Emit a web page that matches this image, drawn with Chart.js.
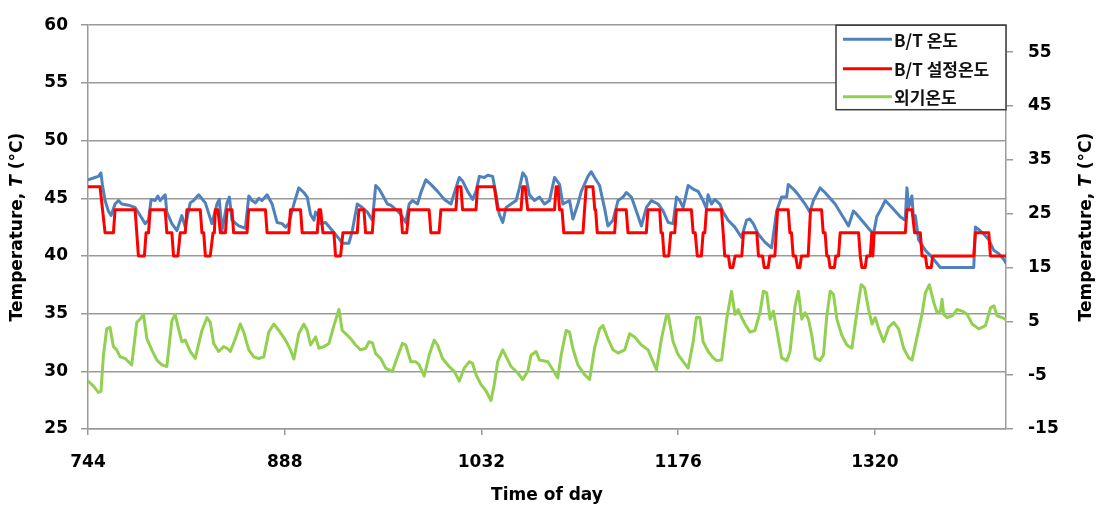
<!DOCTYPE html>
<html><head><meta charset="utf-8">
<script src="https://cdn.jsdelivr.net/npm/chart.js@4.4.1/dist/chart.umd.min.js"></script>
<style>html,body{margin:0;padding:0;background:#fff;}canvas{display:block;}</style>
</head><body>
<canvas id="c" width="1104" height="508"></canvas>
<script>
// ---- data ----
const xTicks = [744, 888, 1032, 1176, 1320];
const leftTicks = [25, 30, 35, 40, 45, 50, 55, 60];
const rightTicks = [-15, -5, 5, 15, 25, 35, 45, 55];
const seriesNames = ['B/T 온도', 'B/T 설정온도', '외기온도'];
const xTitle = 'Time of day';
const yTitleParts = [['Temperature, ', 'bold'], ['T', 'italic bold'], [' (°C)', 'bold']];

const btTempX = [744,749.1,751.6,753.5,754.5,756.5,758.9,760.9,763.8,766.3,768.7,773.6,778.5,782.2,785.8,788.3,790.2,793.2,795.1,796.8,800.5,801.7,805.4,809.1,812.7,815.2,818.8,821.3,825,829.9,834.7,838.4,840.1,842.1,845.8,847.5,849.4,854.3,859.2,861.7,864.1,866.6,869,871.4,875.1,878.8,882.4,886.1,888.6,891,894.7,898.3,902,904.5,906.9,909.4,910.6,913,914.2,917.9,922.8,927.7,930.1,935,937.5,941.1,944.8,948.5,952.2,954.6,957.1,959.5,
963.2,965.6,970.5,973,976.6,979.1,981.5,985.2,987.7,991.3,995,999.9,1004.8,1009.7,1013.3,1015.8,1018.2,1021.9,1025.6,1028,1030.5,1034.1,1036.6,1040.2,1042.7,1045.1,1047.6,1050,1053.7,1057.4,1059.8,1062.3,1064.7,1067.1,1070.8,1074.5,1078.2,1081.8,1085.5,1089.2,1091.6,1096.5,1099,1102.6,1105.1,1110,1112.4,1114.8,1118.5,1122.2,1124.6,1128.3,1132,1135.6,1138.1,1141.8,1145.4,1149.1,1152.8,1156.4,1161.3,1165,1168.7,1172.3,1174.8,1177.2,1179.7,1183.3,1187,
1190.6,1194.3,1196.7,1197.9,1200.4,1202.8,1206.5,1208.9,1212.6,1217.5,1222.4,1226.1,1228.5,1231,1234.6,1239.5,1244.4,1248.1,1251.7,1255.4,1256.6,1260.3,1264,1268.9,1272.5,1275,1278.6,1279.9,1283.5,1290.9,1298.2,1300.7,1304.3,1306.8,1310.4,1315.3,1319,1321.4,1325.1,1327.6,1332.5,1338.6,1342.2,1343.5,1344.7,1347.1,1348.4,1349.6,1352,1356.9,1361.8,1367.9,1392.4,1393.6,1396,1399.7,1403.4,1407,1410.7,1414.4,1416];
const btTempY = [46.6,46.8,46.9,47.2,46.2,44.8,43.9,43.5,44.5,44.8,44.5,44.4,44.2,43.5,42.8,43.1,44.9,44.8,45.2,44.8,45.3,43.8,42.8,42.2,43.5,42.5,44.6,44.8,45.3,44.6,42.8,44.5,44.9,42.2,44.6,45.1,43.1,42.6,42.4,45.2,44.8,44.6,45.0,44.8,45.3,44.5,42.9,42.8,42.5,42.8,44.5,45.9,45.5,45.1,43.6,43.1,43.8,43.4,42.8,42.9,42.2,41.5,41.1,41.1,42.2,44.5,44.2,43.8,43.1,46.1,45.8,45.3,
44.5,44.4,43.9,43.6,42.9,44.5,44.8,44.5,45.5,46.6,46.2,45.6,44.9,44.5,45.9,46.8,46.5,45.6,44.9,45.6,46.9,46.8,47.0,46.9,45.3,43.6,42.9,44.2,44.5,44.8,45.9,47.2,46.8,45.3,44.8,45.1,44.5,44.8,46.8,46.2,44.5,44.8,43.2,44.5,45.6,46.9,47.3,46.8,46.1,44.1,42.6,43.1,44.8,45.1,45.5,45.1,43.9,42.6,44.2,44.8,44.5,43.9,42.9,42.8,45.1,44.8,44.2,46.1,45.8,
45.6,44.8,44.1,45.3,44.5,44.9,44.5,43.8,43.1,42.5,41.6,43.1,43.2,42.8,41.9,41.2,40.7,43.9,45.1,45.1,46.2,45.8,45.3,44.5,43.8,44.8,45.6,45.9,45.5,44.5,43.1,42.6,43.9,43.6,43.1,42.4,41.9,43.4,44.2,44.8,44.2,43.4,43.1,45.9,44.2,45.2,43.1,43.5,41.4,40.5,39.9,39.0,39.0,42.5,42.3,41.9,41.4,40.5,40.2,39.7,39.4];

const btSetX = [744,752.8,756.5,762.6,763.8,778.5,780.9,785.3,786.5,788.3,789.5,800.5,801.7,805.4,806.6,809.8,811.5,815.2,816.4,826.2,827.4,828.7,829.9,833.5,835.5,836.5,837.2,839.1,840.9,844.6,845.8,849.4,850.6,860.4,861.6,873.9,875.1,891,892.2,899.6,900.8,911.8,913,914.3,916,924,925.2,928.9,930.6,941.1,942.3,946,947.2,952.1,953.3,972.9,974.2,977.3,979,993.7,995,1001,1002.3,1013.3,1014.5,1017,1018.2,1028,1029.2,1041.4,1043.9,1061,1062.2,1064,1065.9,1085.5,1086.7,1088,1089.2,1091,1092.3,1106.3,1108.7,1113.6,1115,1115.6,1116.8,1129.5,1130.7,1138,1139.3,1152.7,1153.9,1162.5,1163.5,1164.5,1165.7,1169.1,1170.6,1173.5,1174.7,1185.7,1187,1188.5,1190,1193,1194.3,1195.5,1196.7,1207.7,1209,1209.5,1210.1,1212.8,1214,1216,1217.7,1222.6,1223.8,1233.6,1234.8,1237.8,1239,1241.9,1243.1,1246.8,1248.8,1256.6,1257.8,1259,1260.2,1262,1263.4,1265.1,1266.3,1271.2,1272.9,1281,1282.2,1283.6,1284.8,1286,1287.2,1290.4,1291.4,1293.4,1294.6,1308.1,1309.3,1310.5,1312.9,1314.1,1316.6,1317.8,1318.5,1319.5,1342.3,1343.5,1347.2,1349.1,1353.3,1354.5,1357,1358.2,1361.3,1362.3,1392.4,1393.6,1403.4,1404.6,1416];
const btSetY = [46,46,42,42,44,44,40,40,42,42,
44,44,42,42,40,40,42,42,44,44,
42,42,40,40,42,42,44,44,42,42,
44,44,42,42,44,44,42,42,44,44,
42,42,44,44,42,42,40,40,42,42,
44,44,42,42,44,44,42,42,44,44,
42,42,44,44,46,46,44,44,46,46,
44,44,46,46,44,44,46,46,44,44,
42,42,46,46,44,44,42,42,44,44,
42,42,44,44,42,42,40,40,42,42,
44,44,42,42,40,40,42,42,44,44,
42,42,40,40,39,39,40,40,42,42,
40,40,39,39,40,40,44,44,42,42,
40,40,39,39,40,40,44,44,42,42,
40,40,39,39,40,40,42,42,40,39,
39,40,40,42,40,42,42,44,44,42,
42,40,40,39,39,40,40,42,42,40,
40];

const outTempX = [744,747.9,751.6,753.5,755.3,757.7,760.1,762.6,765,767.5,771.2,776,779.7,782.2,784.6,787.1,790.7,794.4,798.1,801.7,805.4,807.8,810.3,812.7,815.2,818.8,822.5,827.4,831.1,833.5,836,839.6,843.3,845.8,848.2,851.9,855.5,858,861.7,865.3,869,872.7,876.3,880,883.7,888.6,892.2,894.7,898.3,902,904.5,906.9,910.6,913,916.7,920.4,924,927.7,930.1,932.6,936.3,939.9,943.6,947.3,949.7,952.2,954.6,958.3,961.9,966.8,970.5,974.2,976.6,980.3,984,986.4,990.1,993.7,997.4,999.9,1003.5,1008.4,1012.1,1015.8,1019.4,1023.1,1025.5,1028,1031.6,1035.3,1039,1041.4,1043.9,1047.6,1050,1053.7,1058.6,1062.2,1065.9,1068.3,1072,1074.5,
1080.6,1084.3,1087.9,1090.4,1094,1096.5,1098.9,1102.6,1107.5,1111.2,1114.8,1118.5,1121,1124.6,1128.3,1132,1136.9,1140.5,1144.2,1149.1,1154,1157.6,1160.1,1163.8,1167.4,1168.7,1172.3,1176,1179.7,1183.3,1187,1189.4,1191.9,1194.3,1198,1201.7,1204.1,1207.8,1211.5,1215.1,1217.6,1220,1222.5,1224.9,1228.6,1232.2,1235.9,1238.4,1240.8,1243.3,1245.7,1248.1,1251.8,1255.5,1257.9,1261.6,1264,1266.5,1268.9,1271.4,1273.8,1276.3,1279.9,1282.4,1284.8,1287.3,1289.7,1292.2,1295.8,1299.5,1303.2,1306.8,1310,1312.5,1315.4,1317.9,1320.3,1322.8,1326.4,1330.1,1333.8,1337.4,1341.1,1344.8,1347.2,1350.9,1354.5,1357,1359.9,1363.1,1365.6,1368,1369.2,1370.4,1372.9,1376.6,1380.2,1383.9,1387.6,1391.2,1396.1,1401,1404.7,1407.1,1409.6,1413.2,1416];
const outTempY = [-6.1,-7.0,-8.2,-8.0,-1.3,3.6,3.9,0.3,-0.3,-1.6,-1.9,-3.1,4.8,5.4,6.3,1.8,-0.3,-2.2,-3.1,-3.4,5.1,6.3,3.6,1.2,1.5,-0.6,-1.9,3.3,5.7,4.8,0.9,-0.6,0.3,0.0,-0.6,1.8,4.5,3.0,-0.3,-1.6,-1.9,-1.6,3.0,4.5,3.3,1.5,-0.3,-2.0,2.7,4.5,3.3,0.6,2.1,0.0,0.3,0.9,4.2,7.2,3.3,2.7,1.8,0.6,-0.3,0.0,1.2,1.0,-1.0,-1.9,-3.7,-4.3,-1.6,0.9,0.6,-2.5,-2.5,-3.1,-5.2,-1.3,1.5,0.6,-1.9,-3.4,-4.3,-6.1,-3.7,-2.5,-2.8,-4.9,-6.7,-7.9,-9.7,-6.7,-2.5,-0.3,-1.5,-3.4,-4.6,-5.8,-4.3,-1.3,-0.6,-2.2,
-2.5,-4.0,-5.5,-1.2,3.3,3.0,0.0,-3.1,-4.9,-5.8,0.0,3.6,4.2,1.8,-0.3,-0.9,-0.3,2.7,2.1,0.6,-0.3,-2.5,-4.0,1.8,6.0,6.3,1.2,-1.2,-2.5,-3.7,1.2,5.7,5.7,1.2,-0.6,-1.8,-2.3,-2.2,5.4,10.6,6.3,7.2,5.7,4.5,3.0,3.3,6.6,10.6,10.3,5.4,6.9,3.6,-1.8,-2.3,-0.6,7.9,10.6,5.4,6.6,5.4,2.4,-1.8,-2.3,-1.2,6.0,10.6,10.0,5.4,2.4,0.6,0.0,6.6,11.8,11.2,7.2,4.5,5.7,3.6,1.2,3.9,4.8,3.6,0.0,-1.8,-2.2,2.1,6.3,10.3,11.8,8.5,6.6,6.9,9.1,6.3,5.7,6.0,7.2,6.9,6.3,4.5,3.6,4.2,7.5,7.9,6.0,5.7,5.3];

// ---- helpers ----
const toXY = (xs, ys) => xs.slice(0, Math.min(xs.length, ys.length)).map((x, i) => ({x: x, y: ys[i]}));
const FONT = "'DejaVu Sans', 'Liberation Sans', sans-serif";
const KFONT = "'Noto Sans CJK KR', 'Noto Sans', sans-serif";
const GRID = '#9a9a9a';
const tickFont = {family: FONT, size: 17, weight: 'bold'};
const plainLabel = v => String(v);

const decor = {
  id: 'decor',
  afterDraw(chart) {
    const ctx = chart.ctx, ca = chart.chartArea;
    const drawYTitle = (cx, cy) => {
      ctx.save();
      ctx.translate(cx, cy);
      ctx.rotate(-Math.PI / 2);
      ctx.fillStyle = '#000';
      ctx.textBaseline = 'middle';
      ctx.textAlign = 'left';
      let total = 0;
      const ws = yTitleParts.map(p => { ctx.font = p[1] + ' 17px ' + FONT; const w = ctx.measureText(p[0]).width; total += w; return w; });
      let x = -total / 2;
      yTitleParts.forEach((p, i) => { ctx.font = p[1] + ' 17px ' + FONT; ctx.fillText(p[0], x, 0); x += ws[i]; });
      ctx.restore();
    };
    const cy = (ca.top + ca.bottom) / 2;
    drawYTitle(18, cy);
    drawYTitle(1087, cy);
    ctx.save();
    const bx = ca.right - 170, by = ca.top, bw = 170, bh = 84.5;
    ctx.fillStyle = '#fff';
    ctx.fillRect(bx, by, bw, bh);
    ctx.strokeStyle = '#3a3a3a';
    ctx.lineWidth = 1.5;
    ctx.strokeRect(bx, by, bw, bh);
    const rows = [14, 43.5, 71.5];
    chart.data.datasets.forEach((ds, i) => {
      const y = by + rows[i];
      ctx.strokeStyle = ds.borderColor;
      ctx.lineWidth = 3;
      ctx.beginPath();
      ctx.moveTo(bx + 7, y);
      ctx.lineTo(bx + 56, y);
      ctx.stroke();
      ctx.fillStyle = '#111';
      ctx.font = 'bold 17px ' + KFONT;
      ctx.textBaseline = 'middle';
      ctx.textAlign = 'left';
      ctx.fillText(ds.label, bx + 58, y + 1);
    });
    ctx.restore();
  }
};

new Chart(document.getElementById('c').getContext('2d'), {
  type: 'line',
  data: {
    datasets: [
      {label: seriesNames[0], data: toXY(btTempX, btTempY), borderColor: '#4f81bd', borderWidth: 3, yAxisID: 'y', order: 3},
      {label: seriesNames[1], data: toXY(btSetX, btSetY), borderColor: '#ff0000', borderWidth: 3, yAxisID: 'y', order: 2},
      {label: seriesNames[2], data: toXY(outTempX, outTempY), borderColor: '#92d050', borderWidth: 3, yAxisID: 'y2', order: 1}
    ]
  },
  options: {
    responsive: false,
    animation: false,
    devicePixelRatio: 1,
    elements: {point: {radius: 0}, line: {tension: 0, borderJoinStyle: 'round', borderCapStyle: 'round', fill: false}},
    layout: {padding: {top: 18, left: 0, right: 0, bottom: 0}},
    plugins: {legend: {display: false}, tooltip: {enabled: false}},
    scales: {
      x: {
        type: 'linear', position: 'bottom', min: 744, max: 1416,
        afterBuildTicks: s => { s.ticks = xTicks.map(v => ({value: v})); },
        afterFit: s => { s.height = 79; },
        grid: {drawOnChartArea: false, drawTicks: true, tickLength: 6, color: GRID, lineWidth: 1.5},
        border: {display: true, color: GRID, width: 1.5},
        ticks: {padding: 17, color: '#000', font: tickFont, maxRotation: 0, autoSkip: false, callback: plainLabel},
        title: {display: true, text: xTitle, color: '#000', font: tickFont, padding: {top: 0, bottom: 2}}
      },
      y: {
        type: 'linear', position: 'left', min: 25, max: 60,
        afterBuildTicks: s => { s.ticks = leftTicks.map(v => ({value: v})); },
        afterFit: s => { s.width = 88; },
        grid: {drawOnChartArea: true, drawTicks: true, tickLength: 7, color: GRID, lineWidth: 1.5},
        border: {display: true, color: GRID, width: 1.5},
        ticks: {padding: 13, color: '#000', font: tickFont, callback: plainLabel}
      },
      y2: {
        type: 'linear', position: 'right', min: -15, max: 60,
        afterBuildTicks: s => { s.ticks = rightTicks.map(v => ({value: v})); },
        afterFit: s => { s.width = 98; },
        grid: {drawOnChartArea: false, drawTicks: true, tickLength: 7, color: GRID, lineWidth: 1.5},
        border: {display: true, color: GRID, width: 1.5},
        ticks: {padding: 15, color: '#000', font: tickFont, callback: plainLabel}
      }
    }
  },
  plugins: [decor]
});
</script>
</body></html>
